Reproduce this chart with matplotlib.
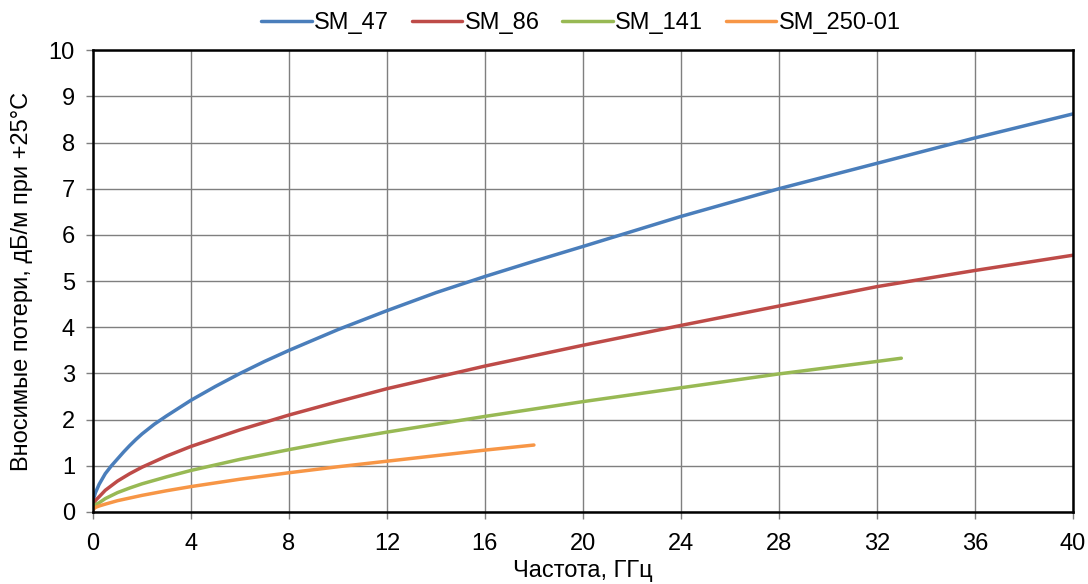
import numpy as np
import matplotlib
matplotlib.use('Agg')
import matplotlib.pyplot as plt

plt.rcParams['font.family'] = ['Liberation Sans', 'DejaVu Sans']

# ---- data ------------------------------------------------------------------
x_47 = [0, 0.1, 0.25, 0.5, 0.75, 1, 1.25, 1.5, 1.75, 2, 2.5, 3, 3.5, 4, 5, 6, 7, 8, 10, 12, 14, 16, 18, 20, 24, 28, 32, 36, 40]
y_47 = [0.25, 0.42, 0.6, 0.83, 1.0, 1.15, 1.3, 1.44, 1.57, 1.69, 1.9, 2.08, 2.25, 2.42, 2.72, 3.0, 3.26, 3.5, 3.95, 4.36, 4.75, 5.1, 5.43, 5.75, 6.4, 7.0, 7.55, 8.1, 8.62]

x_86 = [0, 0.1, 0.25, 0.5, 1, 1.5, 2, 3, 4, 5, 6, 8, 10, 12, 16, 20, 24, 28, 32, 36, 40]
y_86 = [0.15, 0.25, 0.33, 0.47, 0.67, 0.83, 0.97, 1.21, 1.42, 1.6, 1.78, 2.1, 2.39, 2.67, 3.16, 3.61, 4.04, 4.46, 4.88, 5.23, 5.56]

x_141 = [0, 0.1, 0.25, 0.5, 1, 1.5, 2, 3, 4, 6, 8, 10, 12, 16, 20, 24, 28, 32, 33]
y_141 = [0.1, 0.16, 0.2, 0.29, 0.42, 0.52, 0.61, 0.76, 0.9, 1.14, 1.35, 1.55, 1.73, 2.07, 2.39, 2.69, 2.99, 3.26, 3.33]

x_250 = [0, 0.1, 0.25, 0.5, 1, 2, 3, 4, 6, 8, 10, 12, 14, 16, 18]
y_250 = [0.05, 0.1, 0.13, 0.17, 0.245, 0.36, 0.46, 0.55, 0.71, 0.85, 0.98, 1.1, 1.22, 1.34, 1.45]

labels = ['SM_47', 'SM_86', 'SM_141', 'SM_250-01']
colors = ['#4A7EBB', '#BE4B48', '#98B954', '#F79646']

xticks = np.arange(0, 41, 4)
yticks = np.arange(0, 11, 1)

# ---- plot ---------------------------------------------------------------------
fig = plt.figure(figsize=(10.88, 5.84), dpi=100)
ax = fig.add_axes([0.0855, 0.1233, 0.9005, 0.7907])

series = [(x_47, y_47), (x_86, y_86), (x_141, y_141), (x_250, y_250)]
for (xs, ys), lab, c in zip(series, labels, colors):
    ax.plot(xs, ys, color=c, lw=2.5, label=lab, solid_capstyle='round',
            solid_joinstyle='round')

ax.set_xlim(0, 40)
ax.set_ylim(0, 10)
ax.set_xticks(xticks)
ax.set_yticks(yticks)
ax.grid(True, color='#7f7f7f', lw=1.0)
ax.set_axisbelow(True)
for s in ax.spines.values():
    s.set_linewidth(1.8)
    s.set_color('black')
ax.tick_params(axis='both', labelsize=17, length=5, width=1, color='#7f7f7f')
ax.tick_params(axis='x', pad=10)
ax.tick_params(axis='y', pad=8)

ax.set_xlabel('Частота, ГГц', fontsize=17, labelpad=4)
ax.set_ylabel('Вносимые потери, дБ/м при +25°C', fontsize=17, labelpad=11)

ax.legend(loc='center', bbox_to_anchor=(0.498, 1.058), ncol=4, frameon=False,
          fontsize=17, handlelength=2.15, handletextpad=0.1, columnspacing=0.95,
          borderaxespad=0.0)

plt.savefig('out.png', dpi=100)
